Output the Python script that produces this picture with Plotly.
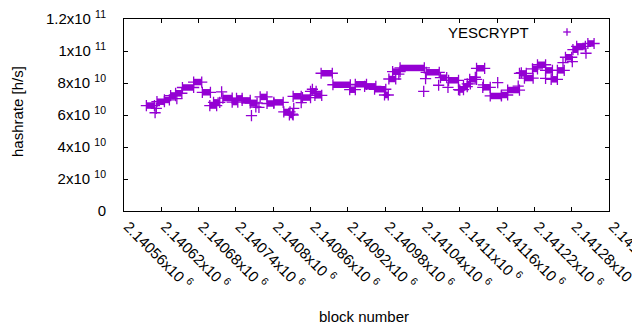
import plotly.graph_objects as go

# ---- data (block number, hashrate in h/s) ----
# runs of consecutive blocks sharing (almost) the same hashrate
seg_start = [2140596, 2140613, 2140625, 2140635, 2140643, 2140654, 2140672, 2140686,
             2140698, 2140704, 2140719, 2140734, 2140741, 2140750, 2140763, 2140779,
             2140790, 2140801, 2140817, 2140826, 2140832, 2140847, 2140860, 2140867,
             2140877, 2140896, 2140923, 2140932, 2140947, 2140963, 2140979, 2140986,
             2140992, 2141004, 2141046, 2141069, 2141082, 2141098, 2141106, 2141112,
             2141116, 2141127, 2141137, 2141149, 2141167, 2141177, 2141196, 2141204,
             2141217, 2141225, 2141238, 2141247, 2141257, 2141270, 2141282, 2141288,
             2141306]
seg_end = [2140609, 2140625, 2140633, 2140643, 2140653, 2140672, 2140685, 2140699,
           2140709, 2140714, 2140734, 2140743, 2140750, 2140763, 2140774, 2140790,
           2140801, 2140816, 2140827, 2140832, 2140845, 2140860, 2140869, 2140878,
           2140895, 2140924, 2140932, 2140950, 2140965, 2140981, 2140985, 2140997,
           2141004, 2141043, 2141067, 2141079, 2141098, 2141106, 2141112, 2141117,
           2141127, 2141140, 2141149, 2141167, 2141177, 2141196, 2141207, 2141218,
           2141225, 2141238, 2141249, 2141257, 2141268, 2141280, 2141290, 2141302,
           2141316]
seg_rate = [6.59e10, 6.83e10, 6.94e10, 7.21e10, 7.36e10, 7.72e10, 8.06e10, 7.42e10,
            6.59e10, 6.79e10, 7.06e10, 6.81e10, 7.04e10, 6.91e10, 6.75e10, 7.13e10,
            6.72e10, 6.79e10, 6.19e10, 6.00e10, 7.17e10, 7.09e10, 7.48e10, 7.23e10,
            8.61e10, 7.89e10, 7.58e10, 7.92e10, 7.79e10, 7.61e10, 7.25e10, 8.25e10,
            8.71e10, 8.94e10, 8.67e10, 8.33e10, 8.17e10, 7.59e10, 7.77e10, 7.94e10,
            8.23e10, 8.92e10, 7.73e10, 7.19e10, 7.25e10, 7.56e10, 8.60e10, 8.31e10,
            8.88e10, 9.14e10, 8.79e10, 8.23e10, 8.79e10, 9.61e10, 10.08e10, 10.29e10,
            10.47e10]

# isolated blocks
pt_block = [2140610, 2140612, 2140645, 2140717, 2140765, 2140772, 2140777, 2140831,
            2140833, 2140845, 2140863, 2141002, 2141042, 2141045, 2141066, 2141081,
            2141100, 2141125, 2141138, 2141161, 2141194, 2141199, 2141238, 2141266,
            2141281, 2141303]
pt_rate = [6.14e10, 6.42e10, 7.02e10, 7.44e10, 5.96e10, 6.50e10, 6.48e10, 6.06e10,
           6.42e10, 6.77e10, 7.61e10, 8.56e10, 7.48e10, 8.27e10, 7.86e10, 7.73e10,
           7.56e10, 8.36e10, 7.88e10, 8.02e10, 7.81e10, 8.64e10, 8.29e10, 9.27e10,
           9.33e10, 9.86e10]

x_ticks = [2140560, 2140620, 2140680, 2140740, 2140800, 2140860, 2140920, 2140980,
           2141040, 2141100, 2141160, 2141220, 2141280, 2141340]
x_ticklabels = ["2.14056x10 <sup>6</sup>", "2.14062x10 <sup>6</sup>", "2.14068x10 <sup>6</sup>",
                "2.14074x10 <sup>6</sup>", "2.1408x10 <sup>6</sup>", "2.14086x10 <sup>6</sup>",
                "2.14092x10 <sup>6</sup>", "2.14098x10 <sup>6</sup>", "2.14104x10 <sup>6</sup>",
                "2.1411x10 <sup>6</sup>", "2.14116x10 <sup>6</sup>", "2.14122x10 <sup>6</sup>",
                "2.14128x10 <sup>6</sup>", "2.14134x10 <sup>6</sup>"]
y_ticks = [0, 2e10, 4e10, 6e10, 8e10, 1e11, 1.2e11]
y_ticklabels = ["0", "2x10 <sup>10</sup>", "4x10 <sup>10</sup>", "6x10 <sup>10</sup>",
                "8x10 <sup>10</sup>", "1x10 <sup>11</sup>", "1.2x10 <sup>11</sup>"]

series_name = "YESCRYPT"
color = "#9400D3"
FONT = "Liberation Sans, Arial, sans-serif"

# ---- build traces ----
run_x, run_y = [], []
for s, e, r in zip(seg_start, seg_end, seg_rate):
    run_x += [s, e, None]
    run_y += [r, r, None]

fig = go.Figure()
fig.add_trace(go.Scatter(x=run_x, y=run_y, mode="lines",
                         line=dict(color=color, width=6.5), hoverinfo="skip",
                         showlegend=False))
fig.add_trace(go.Scatter(x=seg_start + seg_end, y=seg_rate + seg_rate, mode="markers",
                         marker=dict(symbol="cross-thin", size=8,
                                     line=dict(color=color, width=1.3)),
                         showlegend=False, name=series_name))
fig.add_trace(go.Scatter(x=pt_block, y=pt_rate, mode="markers",
                         marker=dict(symbol="cross-thin", size=8,
                                     line=dict(color=color, width=1.3)),
                         showlegend=False, name=series_name))

# the page body adds an 8px offset; margins compensate so the plot box
# lands at x 124..609, y 19..211 in the window
OFF = 8
W, H = 640, 330
L, R, T, B = 124 - OFF, 31 + OFF, 19 - OFF, 119 + OFF
pw, ph = W - L - R, H - T - B

def px_to_paper(px, py):
    return (px - OFF - L) / pw, 1 - (py - OFF - T) / ph

# key (gnuplot style: text then sample)
kx, ky = px_to_paper(531, 32)
fig.add_annotation(x=kx, y=ky, xref="paper", yref="paper", text=series_name,
                   showarrow=False, xanchor="right", yanchor="middle",
                   font=dict(family=FONT, size=15, color="#000000"))
sx, sy = px_to_paper(567, 32)
dx, dy = 3.8 / pw, 3.8 / ph
fig.add_shape(type="line", xref="paper", yref="paper", x0=sx - dx, x1=sx + dx, y0=sy, y1=sy,
              line=dict(color=color, width=1.3))
fig.add_shape(type="line", xref="paper", yref="paper", x0=sx, x1=sx, y0=sy - dy, y1=sy + dy,
              line=dict(color=color, width=1.3))

# axis titles
tx, ty = px_to_paper(364, 316)
fig.add_annotation(x=tx, y=ty, xref="paper", yref="paper", text="block number",
                   showarrow=False, xanchor="center", yanchor="middle",
                   font=dict(family=FONT, size=15, color="#000000"))
yx, yy = px_to_paper(17, 112)
fig.add_annotation(x=yx, y=yy, xref="paper", yref="paper", text="hashrate [h/s]",
                   showarrow=False, xanchor="center", yanchor="middle", textangle=-90,
                   font=dict(family=FONT, size=15, color="#000000"))

axis_common = dict(showline=True, linecolor="#000000", linewidth=1, mirror="ticks",
                   ticks="inside", ticklen=4, tickcolor="#000000", tickwidth=1,
                   showgrid=False, zeroline=False, ticklabeloverflow="allow",
                   tickfont=dict(family=FONT, size=15, color="#000000"))

fig.update_layout(
    width=W, height=H,
    margin=dict(l=L, r=R, t=T, b=B, autoexpand=False),
    paper_bgcolor="white", plot_bgcolor="white",
    showlegend=False,
    xaxis=dict(range=[x_ticks[0], x_ticks[-1]], tickmode="array", tickvals=x_ticks,
               ticktext=x_ticklabels, tickangle=45, ticklabelstandoff=0,
               ticklabelshift=4, **axis_common),
    yaxis=dict(range=[y_ticks[0], y_ticks[-1]], tickmode="array", tickvals=y_ticks,
               ticktext=y_ticklabels, ticklabelstandoff=14, **axis_common),
)

fig.write_html("out.html")
